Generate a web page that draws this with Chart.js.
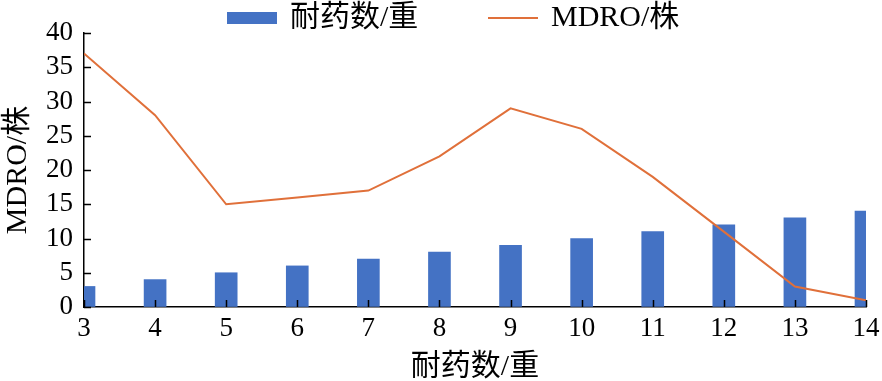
<!DOCTYPE html>
<html>
<head>
<meta charset="utf-8">
<script src="https://cdn.jsdelivr.net/npm/chart.js@4/dist/chart.umd.min.js"></script>
<style>
html,body{margin:0;padding:0;background:#fff;}
#wrap{width:882px;height:381px;}
</style>
</head>
<body>
<div id="wrap"><canvas id="c" width="882" height="381"></canvas></div>
<script>
// ---- data ----
const categories = [3, 4, 5, 6, 7, 8, 9, 10, 11, 12, 13, 14];
const resistanceCounts = [3, 4, 5, 6, 7, 8, 9, 10, 11, 12, 13, 14];
const mdroCounts = [37, 28, 15, 16, 17, 22, 29, 26, 19, 11, 3, 1];
const seriesLabels = ['耐药数/重', 'MDRO/株'];
const xAxisTitle = '耐药数/重';
const yAxisTitle = 'MDRO/株';

// ---- styles ----
const BAR_COLOR = '#4472C4';
const LINE_COLOR = '#E0703A';
const FONT_FAMILY = '"Liberation Serif", "Times New Roman", "Noto Sans CJK SC", serif';

Chart.defaults.font.family = FONT_FAMILY;
Chart.defaults.color = '#000';

const innerTicks = {
  id: 'innerTicks',
  afterDatasetsDraw(chart) {
    const ctx = chart.ctx;
    const xs = chart.scales.x, ys = chart.scales.y;
    const a = chart.chartArea;
    ctx.save();
    ctx.strokeStyle = '#000';
    ctx.lineWidth = 1.5;
    ctx.beginPath();
    xs.ticks.forEach(t => {
      const px = Math.round(xs.getPixelForValue(t.value)) + 0.5;
      ctx.moveTo(px, a.bottom);
      ctx.lineTo(px, a.bottom - 7);
    });
    ys.ticks.forEach(t => {
      const py = Math.round(ys.getPixelForValue(t.value)) + 0.5;
      ctx.moveTo(a.left, py);
      ctx.lineTo(a.left + 7, py);
    });
    ctx.stroke();
    ctx.restore();
  }
};

const customLegend = {
  id: 'customLegend',
  afterDraw(chart) {
    const ctx = chart.ctx;
    const ds = chart.data.datasets;
    ctx.save();
    ctx.font = '30px ' + FONT_FAMILY;
    ctx.textBaseline = 'middle';
    let x = 227;
    const cy = 18;
    ctx.fillStyle = ds[0].backgroundColor;
    ctx.fillRect(x, cy - 6, 50, 12);
    x += 50 + 13;
    ctx.fillStyle = '#000';
    ctx.fillText(ds[0].label, x, cy);
    x = 488;
    ctx.strokeStyle = ds[1].borderColor;
    ctx.lineWidth = 2;
    ctx.beginPath();
    ctx.moveTo(x, cy);
    ctx.lineTo(x + 50, cy);
    ctx.stroke();
    x += 50 + 13;
    ctx.fillText(ds[1].label, x, cy);
    ctx.restore();
  }
};

new Chart(document.getElementById('c'), {
  type: 'bar',
  data: {
    datasets: [
      {
        type: 'bar',
        label: seriesLabels[0],
        data: categories.map((c, i) => ({ x: c, y: resistanceCounts[i] })),
        backgroundColor: BAR_COLOR,
        borderWidth: 0,
        barThickness: 22,
        clip: 0,
        order: 2
      },
      {
        type: 'line',
        label: seriesLabels[1],
        data: categories.map((c, i) => ({ x: c, y: mdroCounts[i] })),
        borderColor: LINE_COLOR,
        backgroundColor: LINE_COLOR,
        borderWidth: 2,
        pointRadius: 0,
        tension: 0,
        order: 1
      }
    ]
  },
  options: {
    responsive: false,
    animation: false,
    devicePixelRatio: 1,
    layout: { padding: { top: 33, right: 16, bottom: 0, left: 0 } },
    plugins: { legend: { display: false }, tooltip: { enabled: false } },
    scales: {
      x: {
        type: 'linear',
        min: 3,
        max: 14,
        offset: false,
        grid: { display: true, drawOnChartArea: false, drawTicks: false },
        border: { display: true, color: '#000', width: 1.5 },
        ticks: { stepSize: 1, autoSkip: false, maxRotation: 0, padding: 6, font: { size: 27 }, color: '#000' },
        title: { display: true, text: xAxisTitle, font: { size: 30 }, color: '#000', padding: { top: 0, bottom: -4 } },
        afterFit(scale) { scale.height = 74; scale.paddingLeft = 0; scale.paddingRight = 0; }
      },
      y: {
        min: 0,
        max: 40,
        grid: { display: true, drawOnChartArea: false, drawTicks: false },
        border: { display: true, color: '#000', width: 1.5 },
        ticks: { stepSize: 5, autoSkip: false, padding: 11, font: { size: 27 }, color: '#000' },
        title: { display: true, text: yAxisTitle, font: { size: 30 }, color: '#000', padding: { top: 0, bottom: 0 } },
        afterFit(scale) { scale.width = 84; scale.paddingTop = 0; scale.paddingBottom = 0; }
      }
    }
  },
  plugins: [innerTicks, customLegend]
});
</script>
</body>
</html>
